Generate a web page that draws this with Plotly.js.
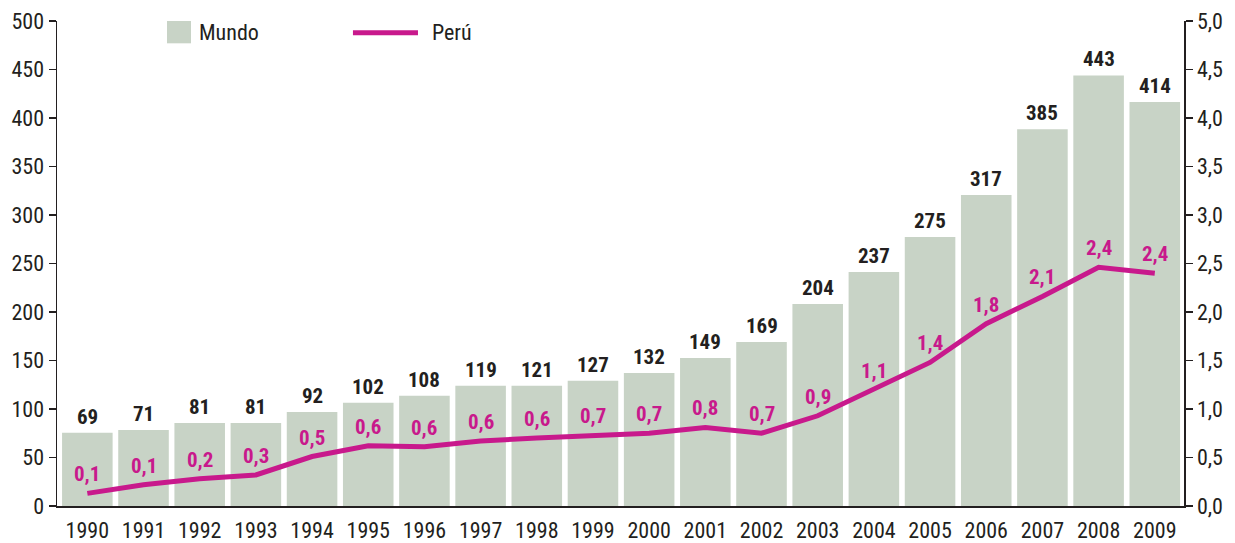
<!DOCTYPE html>
<html>
<head>
<meta charset="utf-8">
<script src="https://cdn.plot.ly/plotly-3.0.1.min.js"></script>
<style>
html,body{margin:0;padding:0;background:#fff;}
#chart{width:1235px;height:543px;}
</style>
</head>
<body>
<div id="chart"></div>
<script>
// Categories
const years = ['1990','1991','1992','1993','1994','1995','1996','1997','1998','1999',
               '2000','2001','2002','2003','2004','2005','2006','2007','2008','2009'];
// Mundo: bar heights as drawn (left axis) and printed labels
const mundoValues = [75.5, 78.3, 85.5, 85.5, 97, 106.4, 113.6, 123.9, 123.9, 129,
                     137, 152.7, 169.2, 208.3, 241.3, 277.3, 320.5, 388.3, 443.9, 416.4];
const mundoLabels = ['69','71','81','81','92','102','108','119','121','127',
                     '132','149','169','204','237','275','317','385','443','414'];
// Perú: line values as drawn (right axis) and printed labels
const peruValues = [0.13, 0.22, 0.28, 0.32, 0.51, 0.62, 0.61, 0.67, 0.70, 0.73,
                    0.75, 0.81, 0.75, 0.93, 1.20, 1.48, 1.88, 2.16, 2.46, 2.40];
const peruLabels = ['0,1','0,1','0,2','0,3','0,5','0,6','0,6','0,6','0,6','0,7',
                    '0,7','0,8','0,7','0,9','1,1','1,4','1,8','2,1','2,4','2,4'];
const seriesNames = ['Mundo', 'Perú'];

const FONT = '"Liberation Sans Narrow", "Roboto Condensed", Roboto, "Liberation Sans", sans-serif';
const DARK = '#231F20';
const PINK = '#C8198C';
const GREEN = '#C8D3C6';

const traces = [
  {
    type: 'bar', x: years, y: mundoValues, name: seriesNames[0],
    marker: {color: GREEN, line: {width: 0}},
    hoverinfo: 'skip'
  },
  {
    type: 'scatter', mode: 'lines', x: years, y: peruValues, name: seriesNames[1],
    yaxis: 'y2', line: {color: PINK, width: 5}, hoverinfo: 'skip'
  }
];

const annotations = [];
years.forEach((yr, i) => {
  annotations.push({
    x: i, y: mundoValues[i], xref: 'x', yref: 'y',
    text: '<b>' + mundoLabels[i] + '</b>', showarrow: false,
    xanchor: 'center', yanchor: 'middle', yshift: 16,
    font: {family: FONT, size: 21, color: DARK}
  });
  annotations.push({
    x: i, y: peruValues[i], xref: 'x', yref: 'y2',
    text: '<b>' + peruLabels[i] + '</b>', showarrow: false,
    xanchor: 'center', yanchor: 'middle', yshift: 19,
    font: {family: FONT, size: 21, color: PINK}
  });
});
// custom legend texts
annotations.push({x: 0.124, y: 0.976, xref: 'paper', yref: 'paper', xanchor: 'left', yanchor: 'middle',
  text: seriesNames[0], showarrow: false, font: {family: FONT, size: 22, color: DARK}});
annotations.push({x: 0.331, y: 0.976, xref: 'paper', yref: 'paper', xanchor: 'left', yanchor: 'middle',
  text: seriesNames[1], showarrow: false, font: {family: FONT, size: 22, color: DARK}});

const shapes = [
  {type: 'rect', xref: 'paper', yref: 'paper', x0: 0.0976, x1: 0.1189, y0: 0.954, y1: 1.0,
   fillcolor: GREEN, line: {width: 0}},
  {type: 'line', xref: 'paper', yref: 'paper', x0: 0.2626, x1: 0.3203, y0: 0.976, y1: 0.976,
   line: {color: PINK, width: 5}}
];

const layout = {
  width: 1235, height: 543,
  margin: {l: 57, r: 51, t: 21, b: 37, pad: 0},
  paper_bgcolor: '#fff', plot_bgcolor: '#fff',
  separators: ',.',
  showlegend: false,
  bargap: 0.1,
  font: {family: FONT, size: 22, color: DARK},
  xaxis: {
    type: 'category', range: [-0.54, 19.52],
    showline: true, linecolor: DARK, linewidth: 1.5,
    ticks: 'outside', ticklen: 4, tickcolor: 'rgba(0,0,0,0)',
    showgrid: false, zeroline: false,
    tickfont: {family: FONT, size: 22, color: DARK}
  },
  yaxis: {
    range: [0, 500], dtick: 50, tick0: 0,
    showline: true, linecolor: DARK, linewidth: 1.5,
    ticks: 'outside', ticklen: 7, tickwidth: 1.5, tickcolor: DARK,
    showgrid: false, zeroline: false,
    tickfont: {family: FONT, size: 22, color: DARK}
  },
  yaxis2: {
    overlaying: 'y', side: 'right',
    range: [0, 5], dtick: 0.5, tick0: 0, tickformat: '.1f',
    showline: true, linecolor: DARK, linewidth: 1.5,
    ticks: 'outside', ticklen: 7, tickwidth: 1.5, tickcolor: DARK,
    showgrid: false, zeroline: false,
    tickfont: {family: FONT, size: 22, color: DARK}
  },
  annotations: annotations,
  shapes: shapes
};

Plotly.newPlot('chart', traces, layout, {staticPlot: true, displayModeBar: false});
</script>
</body>
</html>
